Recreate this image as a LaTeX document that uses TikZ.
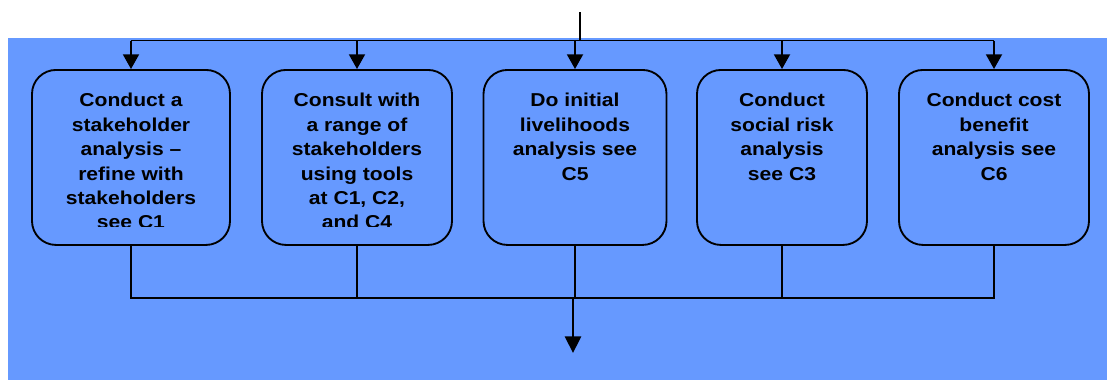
\documentclass[tikz,border=0pt]{standalone}
\usepackage{fontspec}
\setmainfont[FakeStretch=1.13]{Liberation Sans}
\usetikzlibrary{arrows.meta}
\definecolor{panelblue}{RGB}{102,153,255}
\begin{document}
\begin{tikzpicture}[x=0.75pt,y=-0.75pt,
  stepbox/.style={draw=black,line width=1.4pt,rounded corners=18pt,fill=panelblue,
    minimum height=131.25pt,inner sep=0pt,anchor=north},
  steptext/.style={anchor=north,inner sep=0pt,align=center,
    font=\fontsize{14pt}{18.3pt}\selectfont\bfseries},
  link/.style={line width=1.4pt},
  linkarrow/.style={line width=1.4pt,-{Triangle[width=12pt,length=11pt]}},
  mainline/.style={line width=2.2pt},
  mainarrow/.style={line width=2.2pt,-{Triangle[width=12pt,length=12.5pt]}}]
\useasboundingbox (0,0) rectangle (1107,380);
\fill[panelblue] (8,38) rectangle (1107,380);

% step boxes
\node[stepbox,minimum width=148.5pt] (b1) at (131,69) {};
\node[stepbox,minimum width=142.5pt] (b2) at (357,69) {};
\node[stepbox,minimum width=137.25pt] (b3) at (575,69) {};
\node[stepbox,minimum width=127.5pt] (b4) at (782,69) {};
\node[stepbox,minimum width=142.5pt] (b5) at (994,69) {};

% box labels, cut off at the lower text margin
\begin{scope}
\clip (8,69) rectangle (1107,226.5);
\node[steptext] (t1) at ([yshift=-18pt]b1.north) {Conduct a\\stakeholder\\analysis --\\refine with\\stakeholders\\see C1};
\node[steptext] (t2) at ([yshift=-18pt]b2.north) {Consult with\\a range of\\stakeholders\\using tools\\at C1, C2,\\and C4};
\node[steptext] (t3) at ([yshift=-18pt]b3.north) {Do initial\\livelihoods\\analysis see\\C5};
\node[steptext] (t4) at ([yshift=-18pt]b4.north) {Conduct\\social risk\\analysis\\see C3};
\node[steptext] (t5) at ([yshift=-18pt]b5.north) {Conduct cost\\benefit\\analysis see\\C6};
\end{scope}

% incoming flow split over the five steps
\coordinate (in) at (580,12);
\coordinate (split) at (580,40.5);
\coordinate (splitL) at (b1.north |- split);
\coordinate (splitR) at (b5.north |- split);
\draw[mainline] (in) -- (split);
\draw[link] (splitL) -- (splitR);
\draw[linkarrow] (splitL) -- (b1.north);
\draw[linkarrow] (b2.north |- split) -- (b2.north);
\draw[linkarrow] (b3.north |- split) -- (b3.north);
\draw[linkarrow] (b4.north |- split) -- (b4.north);
\draw[linkarrow] (splitR) -- (b5.north);

% results merged into one outgoing flow
\coordinate (merge) at (573,298);
\coordinate (out) at (573,353);
\draw[link] (b1.south) -- (b1.south |- merge) -- (b5.south |- merge) -- (b5.south);
\draw[link] (b2.south) -- (b2.south |- merge);
\draw[link] (b3.south) -- (b3.south |- merge);
\draw[link] (b4.south) -- (b4.south |- merge);
\draw[mainarrow] (merge) -- (out);
\end{tikzpicture}
\end{document}
